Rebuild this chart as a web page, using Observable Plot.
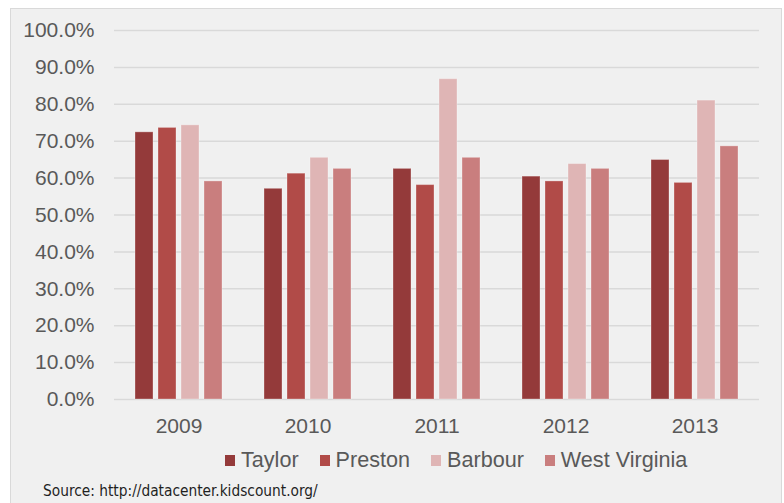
<!DOCTYPE html>
<html>
<head>
<meta charset="utf-8">
<script src="https://cdn.jsdelivr.net/npm/d3@7"></script>
<script src="https://cdn.jsdelivr.net/npm/@observablehq/plot@0.6"></script>
<style>
  html, body { margin: 0; padding: 0; background: #ffffff; }
  body { width: 784px; height: 503px; position: relative; overflow: hidden; font-family: "Liberation Sans", Arial, sans-serif; }
  #panel { position: absolute; left: 10px; top: 8px; width: 772px; height: 510px; box-sizing: border-box;
           border: 1.5px solid #d9d9d9; background: #f0f0f0; }
  #chart { position: absolute; left: 0; top: 0; }
  #legend { position: absolute; left: 225px; top: 448px; display: flex; align-items: center;
            font-size: 21.6px; line-height: 24px; color: #595959; white-space: nowrap; }
  #legend .item { display: flex; align-items: center; margin-right: 21px; }
  #legend .sw { width: 10px; height: 11px; margin-right: 6px; }
  #source { position: absolute; left: 43px; top: 482px; font-family: "Liberation Sans Narrow", "DejaVu Sans Condensed", sans-serif;
            font-size: 15.3px; line-height: 18px; color: #1f1f1f; white-space: nowrap; }
</style>
</head>
<body>
<div id="panel"></div>
<div id="chart"></div>
<div id="legend"></div>
<div id="source">Source: http://datacenter.kidscount.org/</div>
<script>
// Share of children by county, 2009–2013
const years = ["2009", "2010", "2011", "2012", "2013"];
const series = ["Taylor", "Preston", "Barbour", "West Virginia"];
const colors = ["#943a3a", "#b14b48", "#dfb5b5", "#c97e7e"];

const taylor       = [0.724, 0.571, 0.625, 0.604, 0.649];
const preston      = [0.736, 0.612, 0.581, 0.591, 0.587];
const barbour      = [0.743, 0.655, 0.868, 0.638, 0.810];
const westVirginia = [0.591, 0.625, 0.655, 0.625, 0.686];

const yTicks = [0, 0.1, 0.2, 0.3, 0.4, 0.5, 0.6, 0.7, 0.8, 0.9, 1.0];

// Long-format table for the grouped bars
const valuesBySeries = [taylor, preston, barbour, westVirginia];
const rows = [];
years.forEach((year, i) => {
  series.forEach((name, j) => {
    rows.push({year, series: name, value: valuesBySeries[j][i]});
  });
});

const chart = Plot.plot({
  width: 784,
  height: 440,
  marginLeft: 113,
  marginRight: 25,
  marginTop: 30,
  marginBottom: 41,
  style: {
    background: "transparent",
    color: "#595959",
    fontFamily: "'Liberation Sans', Arial, sans-serif",
    fontSize: "21px",
    overflow: "visible"
  },
  fx: {
    domain: years,
    padding: 0,
    axis: "bottom",
    label: null,
    tickSize: 0,
    tickPadding: 19
  },
  x: {
    domain: series,
    axis: null,
    paddingInner: 0.21,
    paddingOuter: 0.83
  },
  y: {
    domain: [0, 1],
    ticks: yTicks,
    tickFormat: d3.format(".1%"),
    tickSize: 0,
    tickPadding: 20,
    label: null
  },
  color: {
    domain: series,
    range: colors
  },
  marks: [
    Plot.ruleY(yTicks, {stroke: "#d9d9d9", strokeWidth: 1.5}),
    Plot.barY(rows, {
      fx: "year",
      x: "series",
      y: "value",
      fill: "series",
      stroke: "#ffffff",
      strokeOpacity: 0.3,
      strokeWidth: 1
    })
  ]
});
document.getElementById("chart").appendChild(chart);

// Legend below the plot, colored from the chart's own color scale
const colorScale = chart.scale("color");
const legend = d3.select("#legend");
series.forEach(name => {
  const item = legend.append("div").attr("class", "item");
  item.append("div").attr("class", "sw").style("background", d3.scaleOrdinal(colorScale.domain, colorScale.range)(name));
  item.append("span").text(name);
});
</script>
</body>
</html>
